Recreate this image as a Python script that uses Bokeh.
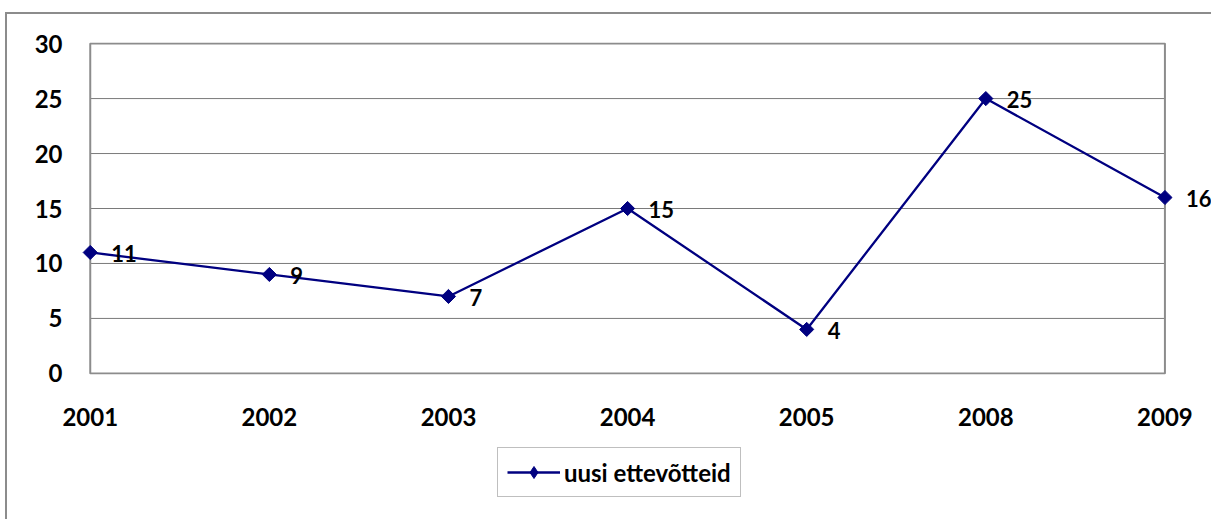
import math
from bokeh.plotting import figure
from bokeh.layouts import column
from bokeh.models import (Range1d, FixedTicker, Legend, LegendItem, LabelSet,
                          ColumnDataSource)
from bokeh.core.properties import value
from bokeh.embed import file_html
from bokeh.resources import INLINE

# ---- data ----
years = ["2001", "2002", "2003", "2004", "2005", "2008", "2009"]
values = [11, 9, 7, 15, 4, 25, 16]
y_ticks = [0, 5, 10, 15, 20, 25, 30]
series_name = "uusi ettevõtteid"

FONT = "Lato"
NAVY = "#000080"
FRAME_GRAY = "#8c8c8c"
GRID_GRAY = "#7a7a7a"

xs = list(range(len(years)))
src = ColumnDataSource(dict(x=xs, y=values, lab=[str(v) for v in values]))

p = figure(
    output_backend="svg", toolbar_location=None,
    frame_width=1132, frame_height=332,
    min_border_left=72, min_border_right=0,
    min_border_top=28, min_border_bottom=65,
    x_range=Range1d(-0.06, 6.26),
    y_range=Range1d(y_ticks[0] - 0.1, y_ticks[-1] + 0.1),
    background_fill_color="white", border_fill_color="white",
)
p.outline_line_color = None
p.xgrid.visible = False
p.ygrid.visible = False

# plot-area frame and gridlines
inner = y_ticks[1:-1]
p.segment(x0=[xs[0]] * len(inner), x1=[xs[-1]] * len(inner), y0=inner, y1=inner,
          line_color=GRID_GRAY, line_width=1)
p.quad(left=[xs[0]], right=[xs[-1]], bottom=[y_ticks[0]], top=[y_ticks[-1]],
       fill_color=None, line_color=FRAME_GRAY, line_width=2)

line_style = dict(line_color=NAVY, line_width=2.3)

p.line("x", "y", source=src, **line_style)
p.scatter("x", "y", source=src, marker="square", angle=math.pi / 4, size=10,
          fill_color=NAVY, line_color=NAVY)

labels = LabelSet(x="x", y="y", text="lab", source=src, x_offset=21, y_offset=-1,
                  text_baseline="middle", text_align="left",
                  text_font=value(FONT), text_font_style="bold",
                  text_font_size="22px", text_color="black")
p.add_layout(labels)

# axes
p.xaxis.ticker = FixedTicker(ticks=xs)
p.xaxis.major_label_overrides = {i: y for i, y in enumerate(years)}
p.yaxis.ticker = FixedTicker(ticks=y_ticks)
for ax in (p.xaxis[0], p.yaxis[0]):
    ax.axis_line_color = None
    ax.major_tick_line_color = None
    ax.minor_tick_line_color = None
    ax.major_tick_out = 0
    ax.major_tick_in = 0
    ax.major_label_text_font = FONT
    ax.major_label_text_font_style = "bold"
    ax.major_label_text_font_size = "24px"
    ax.major_label_text_color = "black"
p.xaxis.major_label_standoff = 33
p.yaxis.major_label_standoff = 17

# ---- legend strip below the chart (series drawn out of view, legend only) ----
p2 = figure(
    output_backend="svg", toolbar_location=None,
    width=1204, height=505 - 425,
    x_axis_location=None, y_axis_location=None,
    min_border=0, min_border_left=0, min_border_right=0,
    min_border_top=0, min_border_bottom=0,
    x_range=Range1d(-0.06, 6.26), y_range=Range1d(100, 101),
    background_fill_color="white", border_fill_color="white",
)
p2.outline_line_color = None
p2.grid.visible = False
lr = p2.line("x", "y", source=src, **line_style)
mr = p2.scatter("x", "y", source=src, marker="diamond", size=10,
                fill_color=NAVY, line_color=NAVY)

legend = Legend(items=[LegendItem(label=series_name, renderers=[lr, mr])],
                location=(418, 22), orientation="vertical",
                padding=9, spacing=0, margin=0,
                glyph_width=53, glyph_height=30, label_height=24, label_standoff=4,
                label_text_font=FONT, label_text_font_style="bold",
                label_text_font_size="24px", label_text_color="black",
                border_line_color="#808080", border_line_width=1.3,
                background_fill_color="white", background_fill_alpha=1.0)
p2.add_layout(legend, "center")

# p height: 28 + 332 + 65 = 425
layout = column(p, p2, spacing=0)
layout.styles = {"border-left": "2px solid #8c8c8c", "border-top": "2px solid #8c8c8c",
                 "margin-left": "5px", "margin-top": "12px"}

open("out.html", "w").write(file_html(layout, INLINE))
